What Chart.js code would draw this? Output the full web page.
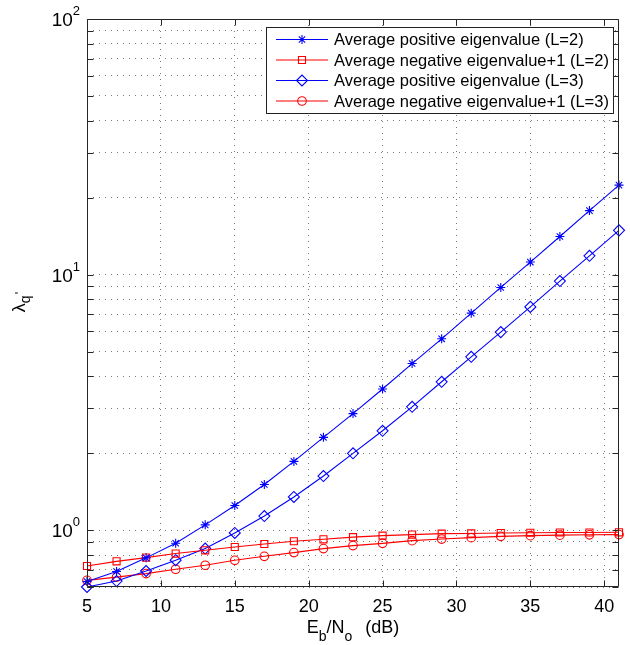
<!DOCTYPE html>
<html>
<head>
<meta charset="utf-8">
<script src="https://cdn.jsdelivr.net/npm/chart.js@4/dist/chart.umd.min.js"></script>
<style>
  html, body { margin: 0; padding: 0; background: #fff; }
</style>
</head>
<body>
<canvas id="eigChart" width="630" height="645"></canvas>
<script>
// Eb/No in dB
const ebno = [5, 7, 9, 11, 13, 15, 17, 19, 21, 23, 25, 27, 29, 31, 33, 35, 37, 39, 41];

const posL2 = [0.63, 0.69, 0.78, 0.89, 1.05, 1.25, 1.51, 1.86, 2.31, 2.86, 3.57, 4.49, 5.61, 7.07, 8.91, 11.2, 14.1, 17.8, 22.4];
const negL2 = [0.725, 0.756, 0.782, 0.811, 0.835, 0.86, 0.884, 0.906, 0.922, 0.94, 0.953, 0.962, 0.97, 0.972, 0.976, 0.978, 0.98, 0.98, 0.982];
const posL3 = [0.6, 0.633, 0.693, 0.764, 0.848, 0.976, 1.137, 1.35, 1.63, 2.0, 2.45, 3.04, 3.81, 4.77, 5.96, 7.48, 9.44, 11.85, 14.9];
const negL3 = [0.637, 0.656, 0.677, 0.704, 0.73, 0.763, 0.791, 0.818, 0.848, 0.871, 0.889, 0.911, 0.924, 0.936, 0.947, 0.953, 0.957, 0.96, 0.962];

const seriesNames = [
  "Average positive eigenvalue (L=2)",
  "Average negative eigenvalue+1 (L=2)",
  "Average positive eigenvalue (L=3)",
  "Average negative eigenvalue+1 (L=3)"
];

const xTicks = [5, 10, 15, 20, 25, 30, 35, 40];
const yTicks = [0.6, 0.7, 0.8, 0.9, 1, 2, 3, 4, 5, 6, 7, 8, 9, 10, 20, 30, 40, 50, 60, 70, 80, 90, 100];
const yDecades = [0, 1, 2];

const FONT = "'Liberation Sans', Arial, Helvetica, sans-serif";
const BLUE = "#0000ff";
const RED = "#ff0000";

function toPoints(ys) {
  return ebno.map((x, i) => ({ x: x, y: ys[i] }));
}

function series(label, ys, color, style, radius) {
  return {
    label: label,
    data: toPoints(ys),
    borderColor: color,
    backgroundColor: color,
    borderWidth: 1.1,
    pointStyle: style,
    pointRadius: radius,
    pointBorderColor: color,
    pointBackgroundColor: "rgba(0,0,0,0)",
    pointBorderWidth: 1.1,
    tension: 0,
    fill: false,
    clip: false
  };
}

// draws text pieces [text, size, dy, gapBefore] left to right
function drawPieces(ctx, parts, x, y) {
  parts.forEach(p => {
    ctx.font = p[1] + "px " + FONT;
    x += p[3] || 0;
    ctx.fillText(p[0], x, y + p[2]);
    x += ctx.measureText(p[0]).width;
  });
}

function piecesWidth(ctx, parts) {
  let w = 0;
  parts.forEach(p => {
    ctx.font = p[1] + "px " + FONT;
    w += ctx.measureText(p[0]).width + (p[3] || 0);
  });
  return w;
}

// frame, inward ticks, superscript labels, axis titles and the legend box
const decorations = {
  id: "decorations",
  afterDraw(chart) {
    const ctx = chart.ctx;
    const a = chart.chartArea;
    const xs = chart.scales.x;
    const ys = chart.scales.y;
    const L = Math.round(a.left) + 0.5, R = Math.round(a.right) - 0.5;
    const T = Math.round(a.top) + 0.5, B = Math.round(a.bottom) - 0.5;

    ctx.save();
    ctx.strokeStyle = "#262626";
    ctx.lineWidth = 1;
    ctx.beginPath();
    ctx.rect(L, T, R - L, B - T);
    xTicks.forEach(v => {
      const px = Math.round(xs.getPixelForValue(v)) + 0.5;
      if (px <= L + 1) return;
      ctx.moveTo(px, B); ctx.lineTo(px, B - 6);
      ctx.moveTo(px, T); ctx.lineTo(px, T + 6);
    });
    yTicks.forEach(v => {
      const py = Math.round(ys.getPixelForValue(v)) + 0.5;
      ctx.moveTo(L, py); ctx.lineTo(L + 6, py);
      ctx.moveTo(R, py); ctx.lineTo(R - 6, py);
    });
    ctx.stroke();

    // y tick labels 10^n
    ctx.fillStyle = "#000";
    ctx.textBaseline = "alphabetic";
    yDecades.forEach(p => {
      const py = ys.getPixelForValue(Math.pow(10, p));
      ctx.font = "13px " + FONT;
      ctx.textAlign = "right";
      const supW = ctx.measureText(String(p)).width;
      ctx.fillText(String(p), 80, py - 4);
      ctx.font = "19px " + FONT;
      ctx.fillText("10", 80 - supW, py + 7);
    });

    // x title: Eb/No (dB)
    ctx.textAlign = "left";
    const xParts = [["E", 18, 0], ["b", 14, 8], ["/N", 18, 0], ["o", 14, 8], ["(dB)", 18, 0, 13]];
    const xw = piecesWidth(ctx, xParts);
    drawPieces(ctx, xParts, (a.left + a.right) / 2 - xw / 2, 633);

    // y title: lambda_q'
    ctx.save();
    ctx.translate(25, 302);
    ctx.rotate(-Math.PI / 2);
    const yParts = [["\u03bb", 18, 0], ["q", 14, 5], ["'", 13, -1, 1]];
    const yw = piecesWidth(ctx, yParts);
    drawPieces(ctx, yParts, -yw / 2, 0);
    ctx.restore();

    // legend
    const box = { x: 266.5, y: 27.5, w: 347, h: 86 };
    ctx.fillStyle = "#fff";
    ctx.fillRect(box.x, box.y, box.w, box.h);
    ctx.strokeStyle = "#222";
    ctx.lineWidth = 1;
    ctx.strokeRect(box.x, box.y, box.w, box.h);
    chart.data.datasets.forEach((ds, i) => {
      const ry = 39.5 + i * 20.5;
      ctx.strokeStyle = ds.borderColor;
      ctx.lineWidth = ds.borderWidth;
      ctx.beginPath();
      ctx.moveTo(276, ry); ctx.lineTo(328, ry);
      ctx.stroke();
      ctx.fillStyle = "rgba(0,0,0,0)";
      Chart.helpers.drawPoint(ctx, {
        pointStyle: ds.pointStyle,
        radius: ds.pointRadius,
        rotation: 0,
        borderWidth: ds.pointBorderWidth
      }, 302, ry);
      ctx.fillStyle = "#000";
      ctx.font = "16.5px " + FONT;
      ctx.textAlign = "left";
      ctx.textBaseline = "middle";
      ctx.fillText(ds.label, 334, ry + 1);
    });
    ctx.restore();
  }
};

const gridColor = "#7a7a7a";

new Chart("eigChart", {
  type: "line",
  data: {
    datasets: [
      series(seriesNames[0], posL2, BLUE, "star", 4.5),
      series(seriesNames[1], negL2, RED, "rect", 5),
      series(seriesNames[2], posL3, BLUE, "rectRot", 5.5),
      series(seriesNames[3], negL3, RED, "circle", 4.3)
    ]
  },
  options: {
    responsive: false,
    animation: false,
    layout: { padding: { left: 0, top: 19, right: 11, bottom: 0 } },
    plugins: {
      legend: { display: false },
      tooltip: { enabled: false }
    },
    scales: {
      x: {
        type: "linear",
        min: 5,
        max: 41,
        afterBuildTicks: s => { s.ticks = xTicks.map(v => ({ value: v })); },
        afterFit: s => { s.height = 58; },
        grid: { color: gridColor, lineWidth: 1, drawTicks: false },
        border: { display: false, dash: [1, 5] },
        ticks: {
          font: { family: FONT, size: 18 },
          color: "#000",
          padding: 9,
          maxRotation: 0,
          autoSkip: false
        }
      },
      y: {
        type: "logarithmic",
        min: 0.6,
        max: 100,
        afterBuildTicks: s => { s.ticks = yTicks.map(v => ({ value: v })); },
        afterFit: s => { s.width = 87; },
        grid: { color: gridColor, lineWidth: 1, drawTicks: false },
        border: { display: false, dash: [1, 5] },
        ticks: { display: false }
      }
    }
  },
  plugins: [decorations]
});
</script>
</body>
</html>
